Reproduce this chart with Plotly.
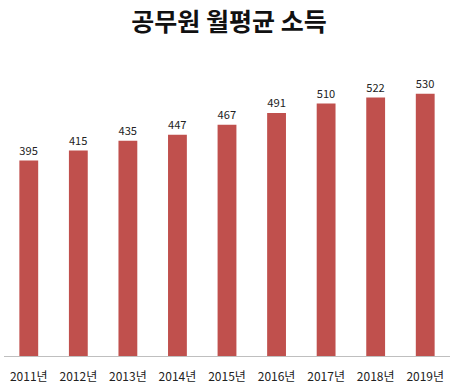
import plotly.graph_objects as go

years = ["2011년", "2012년", "2013년", "2014년", "2015년", "2016년", "2017년", "2018년", "2019년"]
income = [395, 415, 435, 447, 467, 491, 510, 522, 530]

FONT = "Noto Sans CJK KR"

fig = go.Figure(go.Bar(
    x=years, y=income,
    marker=dict(color="#C0504D", line=dict(width=0)),
    text=[str(v) for v in income],
    textposition="outside",
    textfont=dict(family=FONT, size=12, color="#222222"),
    cliponaxis=False,
    hoverinfo="skip",
))

fig.update_layout(
    width=458, height=390,
    margin=dict(l=4, r=8, t=59, b=34),
    paper_bgcolor="white", plot_bgcolor="white",
    bargap=0.62,
    showlegend=False,
    title=dict(text="<b>공무원 월평균 소득</b>", x=0.5, xanchor="center", y=0.944, yanchor="middle",
               font=dict(family=FONT, size=25, color="#111111")),
    xaxis=dict(showline=True, linecolor="#BFBFBF", linewidth=1, ticks="", showgrid=False,
               tickfont=dict(family=FONT, size=12, color="#222222"), ticklabelstandoff=10),
    yaxis=dict(range=[0, 600], visible=False, showgrid=False, zeroline=False),
)

fig.write_html("out.html", config={"displayModeBar": False},
               post_script="document.body.style.margin='0';")
